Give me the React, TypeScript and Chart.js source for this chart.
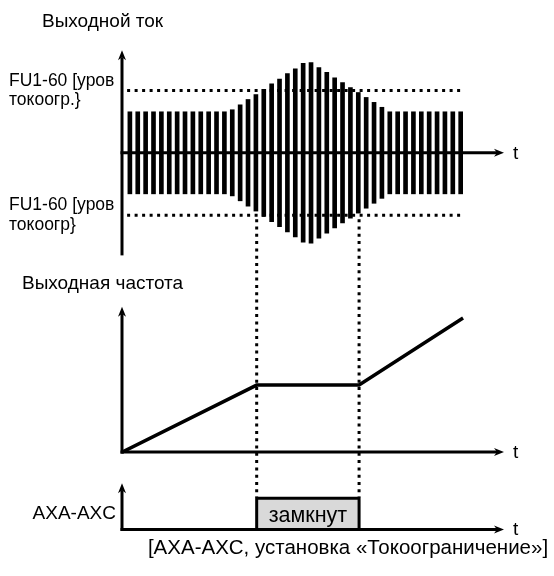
import React, { useEffect, useRef } from "react";
import { Chart, registerables } from "chart.js";

Chart.register(...registerables);

const FONT = '"Liberation Sans", Arial, "DejaVu Sans", sans-serif';

// ---- data ----
const timeRange = [0, 48.5];
const barTimes = [
  1, 2, 3, 4, 5, 6, 7, 8, 9, 10, 11, 12, 13, 14, 15, 16, 17, 18, 19, 20, 21, 22,
  23, 24, 25, 26, 27, 28, 29, 30, 31, 32, 33, 34, 35, 36, 37, 38, 39, 40, 41, 42, 43,
];
const currentAmplitude = [
  1, 1, 1, 1, 1, 1, 1, 1, 1, 1, 1, 1, 1,
  1.05, 1.17, 1.3, 1.42, 1.55, 1.68, 1.8, 1.93, 2.05, 2.18,
  2.2, 2.08, 1.96, 1.83, 1.71, 1.59, 1.47, 1.35, 1.23, 1.11,
  1, 1, 1, 1, 1, 1, 1, 1, 1, 1,
];
const limitLevel = 1.52;
const limitLineSpan = [0.65, 43.3];
const upperLevelLabel = ["FU1-60 [уров", "токоогр.}"];
const lowerLevelLabel = ["FU1-60 [уров", "токоогр}"];
const currentAxisRange = [-2.5, 2.5];

const freqTimes = [0, 17.1, 30.1, 43.3];
const freqValues = [0, 30, 30, 60];
const freqAxisRange = [0, 65];

const signalTimes = [17.1, 17.1, 30.1, 30.1];
const signalValues = [0, 1, 1, 0];
const signalAxisRange = [0, 1.48];
const signalTickValue = 0.5;
const signalTickLabel = "AXA-AXC";
const signalStateLabel = "замкнут";

const eventTimes = [17.1, 30.1];

const currentTitle = "Выходной ток";
const freqTitle = "Выходная частота";
const timeLabel = "t";
const caption = "[AXA-AXC, установка «Токоограничение»]";

function arrowLine(ctx: CanvasRenderingContext2D, x1: number, y1: number, x2: number, y2: number) {
  const dx = x2 - x1;
  const dy = y2 - y1;
  const len = Math.hypot(dx, dy);
  const ux = dx / len;
  const uy = dy / len;
  const headLen = 10;
  const halfW = 4;
  ctx.beginPath();
  ctx.moveTo(x1, y1);
  ctx.lineTo(x2 - ux * (headLen - 3), y2 - uy * (headLen - 3));
  ctx.stroke();
  const bx = x2 - ux * headLen;
  const by = y2 - uy * headLen;
  ctx.beginPath();
  ctx.moveTo(x2, y2);
  ctx.lineTo(bx - uy * halfW, by + ux * halfW);
  ctx.lineTo(x2 - ux * (headLen - 3), y2 - uy * (headLen - 3));
  ctx.lineTo(bx + uy * halfW, by - ux * halfW);
  ctx.closePath();
  ctx.fill();
}

const diagramPlugin = {
  id: "diagram",
  afterDatasetsDraw(chart: any) {
    const ctx: CanvasRenderingContext2D = chart.ctx;
    const xs = chart.scales.x;
    const yc = chart.scales.yCur;
    const yf = chart.scales.yFreq;
    const ys = chart.scales.ySig;
    ctx.save();
    ctx.strokeStyle = "#000";
    ctx.fillStyle = "#000";
    ctx.lineWidth = 3;
    ctx.lineCap = "butt";
    const x0 = xs.getPixelForValue(0);
    const xEnd = xs.getPixelForValue(timeRange[1]);
    const panels: [any, number[]][] = [
      [yc, currentAxisRange],
      [yf, freqAxisRange],
      [ys, signalAxisRange],
    ];
    ctx.font = `19px ${FONT}`;
    ctx.textBaseline = "alphabetic";
    for (const [s, r] of panels) {
      arrowLine(ctx, x0, s.getPixelForValue(r[0]) + (r[0] === 0 ? 1.5 : 0), x0, s.getPixelForValue(r[1]));
      const y0 = s.getPixelForValue(0);
      arrowLine(ctx, x0 - 1.5, y0, xEnd, y0);
      ctx.textAlign = "left";
      ctx.fillText(timeLabel, xEnd + 9, y0 + 6);
    }
    // dotted event lines
    ctx.setLineDash([3, 4.3]);
    for (const t of eventTimes) {
      const px = xs.getPixelForValue(t);
      ctx.beginPath();
      ctx.moveTo(px, yc.getPixelForValue(-limitLevel) + 4);
      ctx.lineTo(px, ys.getPixelForValue(1) - 1);
      ctx.stroke();
    }
    ctx.setLineDash([]);
    // texts
    ctx.textAlign = "left";
    ctx.font = `19px ${FONT}`;
    ctx.fillText(currentTitle, 42, 27);
    ctx.fillText(freqTitle, 22, 289);
    ctx.textAlign = "center";
    ctx.font = `21.5px ${FONT}`;
    ctx.fillText(
      signalStateLabel,
      xs.getPixelForValue((eventTimes[0] + eventTimes[1]) / 2),
      ys.getPixelForValue(signalTickValue) + 8
    );
    ctx.font = `20.5px ${FONT}`;
    ctx.fillText(caption, 348, 554);
    ctx.restore();
  },
};

export default function App() {
  const ref = useRef<HTMLCanvasElement>(null);
  useEffect(() => {
    const canvas = ref.current!;
    const hiddenGrid = { display: false, drawTicks: false };
    const chart = new Chart(canvas, {
      type: "bar",
      data: {
        datasets: [
          {
            type: "bar",
            label: "current",
            xAxisID: "x",
            yAxisID: "yCur",
            data: barTimes.map((t, i) => ({ x: t, y: [-currentAmplitude[i], currentAmplitude[i]] })) as any,
            backgroundColor: "#000",
            borderWidth: 0,
            barThickness: 4,
            grouped: false,
          } as any,
          {
            type: "line",
            label: "limit+",
            yAxisID: "yCur",
            data: limitLineSpan.map((x) => ({ x, y: limitLevel })),
            borderColor: "#000",
            borderWidth: 3,
            borderDash: [3, 4.5],
            borderCapStyle: "butt",
            pointRadius: 0,
            fill: false,
          } as any,
          {
            type: "line",
            label: "limit-",
            yAxisID: "yCur",
            data: limitLineSpan.map((x) => ({ x, y: -limitLevel })),
            borderColor: "#000",
            borderWidth: 3,
            borderDash: [3, 4.5],
            borderCapStyle: "butt",
            pointRadius: 0,
            fill: false,
          } as any,
          {
            type: "line",
            label: "freq",
            yAxisID: "yFreq",
            data: freqTimes.map((x, i) => ({ x, y: freqValues[i] })),
            borderColor: "#000",
            borderWidth: 3.5,
            borderJoinStyle: "miter",
            pointRadius: 0,
            tension: 0,
            fill: false,
          } as any,
          {
            type: "line",
            label: "signal",
            yAxisID: "ySig",
            data: signalTimes.map((x, i) => ({ x, y: signalValues[i] })),
            borderColor: "#000",
            borderWidth: 3,
            borderJoinStyle: "miter",
            backgroundColor: "#d9d9d9",
            pointRadius: 0,
            tension: 0,
            fill: "origin",
          } as any,
        ],
      },
      options: {
        responsive: false,
        animation: false,
        devicePixelRatio: 1,
        layout: { padding: { left: 9, right: 50, top: 40, bottom: 31 } },
        plugins: { legend: { display: false }, tooltip: { enabled: false } },
        scales: {
          x: { type: "linear", min: timeRange[0], max: timeRange[1], offset: false, display: false },
          yCur: {
            type: "linear",
            position: "left",
            stack: "panels",
            stackWeight: 240,
            weight: 3,
            min: -3.1,
            max: 2.75,
            bounds: "data",
            grid: hiddenGrid,
            border: { display: false },
            ticks: {
              autoSkip: false,
              crossAlign: "far",
              padding: 0,
              color: "#000",
              font: { family: FONT, size: 17.5, lineHeight: 1.1 },
              callback: (v: any) => (Number(v) > 0 ? upperLevelLabel : lowerLevelLabel),
            },
            afterBuildTicks: (s: any) => {
              s.ticks = [-limitLevel, limitLevel].map((value) => ({ value }));
            },
            afterFit: (s: any) => {
              s.width = 113;
            },
          } as any,
          yFreq: {
            type: "linear",
            position: "left",
            stack: "panels",
            stackWeight: 190,
            weight: 2,
            min: -8,
            max: 77,
            bounds: "data",
            grid: hiddenGrid,
            border: { display: false },
            ticks: { display: false },
            afterFit: (s: any) => {
              s.width = 113;
            },
          } as any,
          ySig: {
            type: "linear",
            position: "left",
            stack: "panels",
            stackWeight: 75,
            weight: 1,
            min: -0.5,
            max: 1.9,
            bounds: "data",
            grid: hiddenGrid,
            border: { display: false },
            ticks: {
              autoSkip: false,
              crossAlign: "near",
              padding: 6,
              color: "#000",
              font: { family: FONT, size: 19 },
              callback: () => signalTickLabel,
            },
            afterBuildTicks: (s: any) => {
              s.ticks = [{ value: signalTickValue }];
            },
            afterFit: (s: any) => {
              s.width = 113;
            },
          } as any,
        },
      } as any,
      plugins: [diagramPlugin],
    });
    return () => chart.destroy();
  }, []);
  return (
    <div style={{ position: "absolute", left: 0, top: 0, width: 554, height: 576, background: "#fff" }}>
      <canvas ref={ref} width={554} height={576} style={{ display: "block", width: 554, height: 576 }} />
    </div>
  );
}
